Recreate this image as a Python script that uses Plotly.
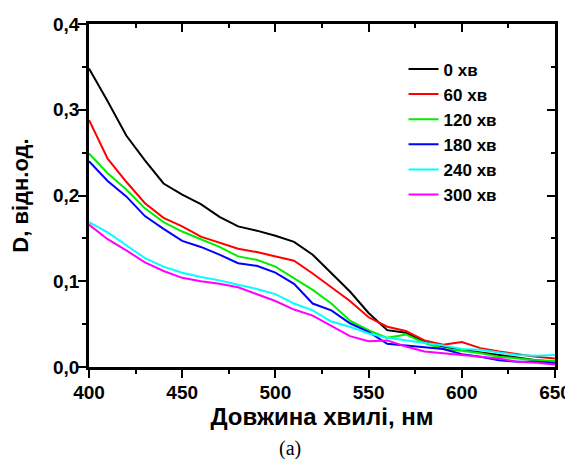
import plotly.graph_objects as go

wavelength = [400, 410, 420, 430, 440, 450, 460, 470, 480, 490, 500, 510, 520,
              530, 540, 550, 560, 570, 580, 590, 600, 610, 620, 630, 640, 650]

d_0 = [0.348, 0.310, 0.270, 0.241, 0.214, 0.201, 0.190, 0.175, 0.164, 0.159, 0.153, 0.146, 0.131,
       0.110, 0.088, 0.063, 0.043, 0.040, 0.029, 0.024, 0.020, 0.017, 0.014, 0.011, 0.008, 0.006]
d_60 = [0.288, 0.243, 0.216, 0.191, 0.174, 0.164, 0.152, 0.145, 0.138, 0.134, 0.129, 0.124, 0.109,
        0.093, 0.077, 0.058, 0.047, 0.042, 0.031, 0.026, 0.029, 0.022, 0.018, 0.015, 0.012, 0.010]
d_120 = [0.249, 0.226, 0.207, 0.185, 0.169, 0.158, 0.149, 0.140, 0.129, 0.125, 0.117, 0.104, 0.090,
         0.074, 0.054, 0.043, 0.034, 0.038, 0.028, 0.021, 0.019, 0.016, 0.012, 0.010, 0.008, 0.007]
d_180 = [0.240, 0.217, 0.199, 0.176, 0.161, 0.147, 0.140, 0.131, 0.121, 0.118, 0.110, 0.097, 0.074,
         0.066, 0.051, 0.041, 0.027, 0.025, 0.023, 0.021, 0.015, 0.012, 0.008, 0.006, 0.006, 0.004]
d_240 = [0.169, 0.157, 0.142, 0.127, 0.117, 0.110, 0.105, 0.101, 0.096, 0.091, 0.085, 0.074, 0.066,
         0.053, 0.047, 0.039, 0.034, 0.031, 0.028, 0.025, 0.021, 0.020, 0.017, 0.014, 0.013, 0.014]
d_300 = [0.166, 0.149, 0.136, 0.122, 0.112, 0.104, 0.100, 0.097, 0.093, 0.085, 0.077, 0.067, 0.060,
         0.048, 0.036, 0.030, 0.031, 0.024, 0.018, 0.016, 0.014, 0.012, 0.010, 0.006, 0.005, 0.003]

series_names = ["0 хв", "60 хв", "120 хв", "180 хв", "240 хв", "300 хв"]
series_values = [d_0, d_60, d_120, d_180, d_240, d_300]
colors = ["#000000", "#ff0000", "#00ee00", "#0000ff", "#00ffff", "#ff00ff"]

x_ticks = [400, 450, 500, 550, 600, 650]
y_ticks = [0.0, 0.1, 0.2, 0.3, 0.4]

FONT = "Liberation Sans, Arial, sans-serif"

fig = go.Figure()
for name, vals, col in zip(series_names, series_values, colors):
    fig.add_trace(go.Scatter(x=wavelength, y=vals, mode="lines", name=name,
                             line=dict(color=col, width=2)))

# invisible helper trace so the mirrored top/right axes (inward ticks) are drawn
fig.add_trace(go.Scatter(x=wavelength, y=d_0, xaxis="x2", yaxis="y2", mode="lines",
                         opacity=0, showlegend=False, hoverinfo="skip",
                         line=dict(color="white", width=0)))

axis_common = dict(showline=True, linecolor="black", linewidth=2.5, showgrid=False,
                   zeroline=False, ticklen=8, tickwidth=2, tickcolor="black",
                   automargin=False)

# the page body adds an 8px offset, so the figure is 8px smaller and margins compensate
fig.update_layout(
    width=565, height=451,
    margin=dict(l=81, r=18, t=16, b=92),
    paper_bgcolor="white", plot_bgcolor="white",
    separators=", ",
    font=dict(family=FONT, color="black"),
    showlegend=True,
    legend=dict(x=0.675, y=0.92, xanchor="left", yanchor="top",
                font=dict(family=FONT, size=17, color="black", weight="bold"),
                bgcolor="rgba(0,0,0,0)", tracegroupgap=0),
    xaxis=dict(range=[400, 650], tickvals=x_ticks, ticks="outside",
               tickfont=dict(family=FONT, size=19, weight="bold"),
               ticklabelstandoff=-2,
               minor=dict(dtick=25, ticks="outside", ticklen=4, tickwidth=2, tickcolor="black"),
               title=dict(text="Довжина хвилі, нм", font=dict(family=FONT, size=24, weight="bold"),
                          standoff=6),
               **axis_common),
    yaxis=dict(range=[0, 0.4], tickvals=y_ticks, tickformat=".1f", ticks="outside",
               tickfont=dict(family=FONT, size=19, weight="bold"),
               ticklabelstandoff=-5,
               minor=dict(dtick=0.05, ticks="outside", ticklen=4, tickwidth=2, tickcolor="black"),
               title=dict(text="D, відн.од.", font=dict(family=FONT, size=22, weight="bold"),
                          standoff=19),
               **axis_common),
    xaxis2=dict(range=[400, 650], overlaying="x", side="top", tickvals=x_ticks, ticks="inside",
                showticklabels=False,
                minor=dict(dtick=25, ticks="inside", ticklen=4, tickwidth=2, tickcolor="black"),
                **axis_common),
    yaxis2=dict(range=[0, 0.4], overlaying="y", side="right", tickvals=y_ticks, ticks="inside",
                showticklabels=False,
                minor=dict(dtick=0.05, ticks="inside", ticklen=4, tickwidth=2, tickcolor="black"),
                **axis_common),
)

fig.add_annotation(text="(a)", xref="paper", yref="paper", x=0.431, y=-0.238, yanchor="middle",
                   showarrow=False, font=dict(family="Liberation Serif, Times New Roman, serif",
                                              size=20, color="black"))

fig.write_html("out.html")
